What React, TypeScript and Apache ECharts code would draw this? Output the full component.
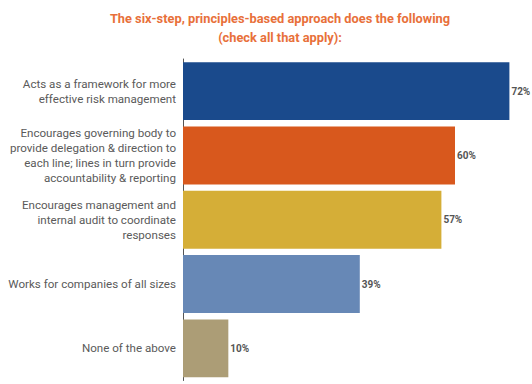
import React, { useEffect, useRef } from "react";
import * as echarts from "echarts";

const categories = [
  "Acts as a framework for more\neffective risk management",
  "Encourages governing body to\nprovide delegation & direction to\neach line; lines in turn provide\naccountability & reporting",
  "Encourages management and\ninternal audit to coordinate\nresponses",
  "Works for companies of all sizes",
  "None of the above",
];
const values = [72, 60, 57, 39, 10];
const colors = ["#1A4A8C", "#D8581D", "#D5AE37", "#6788B6", "#AC9D76"];
const titleText = "The six-step, principles-based approach does the following\n(check all that apply):";

export default function App() {
  const ref = useRef<HTMLDivElement>(null);
  useEffect(() => {
    if (!ref.current) return;
    const chart = echarts.init(ref.current, null, { renderer: "svg" });
    chart.setOption({
      animation: false,
      backgroundColor: "#ffffff",
      title: {
        text: titleText,
        left: 275,
        top: 4,
        textAlign: "center",
        textStyle: {
          fontFamily: "Roboto",
          fontSize: 12.8,
          fontWeight: "bold",
          color: "#E8703A",
          lineHeight: 19,
        },
      },
      grid: { left: 183, right: 9, top: 59, bottom: 3.5, containLabel: false },
      xAxis: {
        type: "value",
        min: 0,
        max: 75,
        show: false,
        splitLine: { show: false },
      },
      yAxis: {
        type: "category",
        inverse: true,
        data: categories,
        axisLine: { show: true, lineStyle: { color: "#555555", width: 1 } },
        axisTick: { show: false },
        axisLabel: {
          margin: 7,
          fontFamily: "Roboto",
          fontSize: 11.6,
          lineHeight: 15,
          color: "#5a5a5a",
          align: "right",
        },
      },
      series: [
        {
          type: "bar",
          data: values.map((v, i) => ({ value: v, itemStyle: { color: colors[i] } })),
          barCategoryGap: "10%",
          label: {
            show: true,
            position: "right",
            distance: 2,
            formatter: "{c}%",
            fontFamily: "Roboto",
            fontSize: 10,
            fontWeight: "bold",
            color: "#555555",
          },
        },
      ],
    });
    return () => chart.dispose();
  }, []);
  return (
    <div
      ref={ref}
      style={{ position: "fixed", left: 0, top: 0, width: 532, height: 384 }}
    />
  );
}
